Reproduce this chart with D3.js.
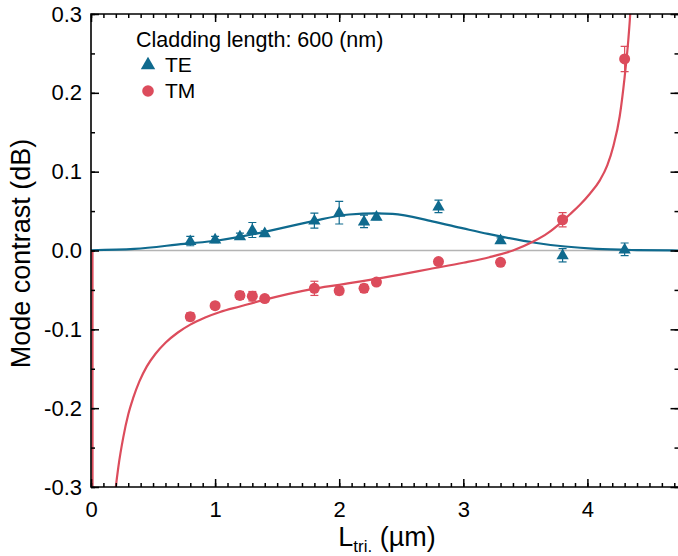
<!DOCTYPE html>
<html><head><meta charset="utf-8">
<script src="https://cdn.jsdelivr.net/npm/d3@7"></script>
<style>
html,body{margin:0;padding:0;background:#fff;}
text{font-family:"Liberation Sans",Arial,sans-serif;}
</style></head>
<body>
<svg id="chart" width="678" height="556"></svg>
<script>
// ---- data ----
const xVals = [0.8, 1.0, 1.2, 1.3, 1.4, 1.8, 2.0, 2.2, 2.3, 2.8, 3.3, 3.8, 4.3];
const teVals = [0.012, 0.014, 0.018, 0.026, 0.022, 0.038, 0.048, 0.037, 0.043, 0.056, 0.013, -0.006, 0.0015];
const teErr  = [0.006, 0.004, 0.004, 0.0095, 0.003, 0.0095, 0.0144, 0.008, 0.004, 0.008, 0.003, 0.0085, 0.008];
const tmVals = [-0.084, -0.070, -0.057, -0.058, -0.061, -0.048, -0.051, -0.048, -0.040, -0.014, -0.015, 0.039, 0.243];
const tmErr  = [0.005, 0.004, 0.005, 0.006, 0.004, 0.009, 0.005, 0.005, 0.004, 0.003, 0.003, 0.009, 0.016];
// fitted curves
const teFitX = [0, 0.35, 0.75, 1.02, 1.38, 1.78, 2.08, 2.3, 2.43, 2.75, 3.0, 3.2, 3.59, 4.07, 4.4, 4.75];
const teFitY = [0.0003, 0.002, 0.0085, 0.0127, 0.023, 0.037, 0.0457, 0.047, 0.0465, 0.037, 0.028, 0.021, 0.0095, 0.002, 0.0005, 0.0];
const tmFitX = [0.012, 0.013, 0.1, 0.15, 0.2, 0.22, 0.26, 0.3, 0.34, 0.39, 0.45, 0.52, 0.6, 0.7, 0.8, 0.92, 1.04, 1.2, 1.386, 1.78, 2.0, 2.2, 2.48, 2.73, 3.0, 3.21, 3.40, 3.56, 3.68, 3.78, 3.86, 3.94, 4.02, 4.1, 4.16, 4.21, 4.26, 4.30, 4.33, 4.345, 4.37, 4.40];
const tmFitY = [0.0, -0.6, -0.575, -0.392, -0.300, -0.275, -0.237, -0.208, -0.187, -0.166, -0.147, -0.131, -0.117, -0.104, -0.094, -0.085, -0.078, -0.071, -0.063, -0.049, -0.0435, -0.0385, -0.031, -0.0235, -0.0155, -0.0085, 0.0, 0.011, 0.022, 0.0345, 0.046, 0.058, 0.072, 0.089, 0.108, 0.133, 0.170, 0.220, 0.268, 0.30, 0.38, 0.53];
const xTicks = [0, 1, 2, 3, 4];
const yTicks = [-0.3, -0.2, -0.1, 0.0, 0.1, 0.2, 0.3];
const yTickLabels = ["-0.3", "-0.2", "-0.1", "0.0", "0.1", "0.2", "0.3"];
const legendTitle = "Cladding length: 600 (nm)";
const seriesNames = ["TE", "TM"];

// ---- layout ----
const colTE = "#0f6a8e", colTM = "#dc4c5c";
const L = 91, R = 678.5, T = 14, B = 487;
const x = d3.scaleLinear().domain([0, 4.734]).range([L, R]);
const y = d3.scaleLinear().domain([-0.3, 0.3]).range([B, T]);
const svg = d3.select("#chart");

svg.append("defs").append("clipPath").attr("id", "clip")
  .append("rect").attr("x", L).attr("y", T).attr("width", R - L).attr("height", B - T);

// zero line
svg.append("line").attr("x1", L).attr("x2", R).attr("y1", y(0)).attr("y2", y(0))
  .attr("stroke", "#b4b4b4").attr("stroke-width", 1.6);

const plot = svg.append("g").attr("clip-path", "url(#clip)");
const line = d3.line().x(d => x(d[0])).y(d => y(d[1])).curve(d3.curveMonotoneX);
plot.append("path").datum(teFitX.map((v, i) => [v, teFitY[i]]))
  .attr("d", line).attr("fill", "none").attr("stroke", colTE).attr("stroke-width", 2.2);
plot.append("path").datum(tmFitX.map((v, i) => [v, tmFitY[i]]))
  .attr("d", line).attr("fill", "none").attr("stroke", colTM).attr("stroke-width", 2.2);

function errbars(vals, errs, col) {
  const g = plot.append("g").attr("stroke", col).attr("stroke-width", 1.2);
  xVals.forEach((xv, i) => {
    const cx = x(xv), y1 = y(vals[i] + errs[i]), y2 = y(vals[i] - errs[i]);
    g.append("line").attr("x1", cx).attr("x2", cx).attr("y1", y1).attr("y2", y2);
    g.append("line").attr("x1", cx - 4).attr("x2", cx + 4).attr("y1", y1).attr("y2", y1);
    g.append("line").attr("x1", cx - 4).attr("x2", cx + 4).attr("y1", y2).attr("y2", y2);
  });
}
errbars(teVals, teErr, colTE);
errbars(tmVals, tmErr, colTM);

const tri = d3.symbol().type(d3.symbolTriangle).size(66);
plot.append("g").selectAll("path").data(xVals).join("path")
  .attr("d", tri).attr("fill", colTE)
  .attr("transform", (d, i) => `translate(${x(d)},${y(teVals[i]) + 0.5})`);
plot.append("g").selectAll("circle").data(xVals).join("circle")
  .attr("cx", d => x(d)).attr("cy", (d, i) => y(tmVals[i])).attr("r", 5.5).attr("fill", colTM);

// axes
const minorX = d3.range(0, 4.75, 0.1);
const minorY = d3.range(-0.3, 0.3001, 0.05);
function styleAxis(g) {
  g.select(".domain").remove();
  g.selectAll("line").attr("stroke", "#000").attr("stroke-width", 1.5);
  g.selectAll("text").attr("fill", "#000").style("font-family", '"Liberation Sans",Arial,sans-serif');
}
// bottom
svg.append("g").attr("transform", `translate(0,${B})`)
  .call(d3.axisBottom(x).tickValues(minorX).tickSize(-4).tickFormat("")).call(styleAxis);
svg.append("g").attr("transform", `translate(0,${B})`)
  .call(d3.axisBottom(x).tickValues(xTicks).tickSize(-8).tickPadding(14).tickFormat(d3.format("d")))
  .call(styleAxis).selectAll("text").attr("font-size", 22);
// top
svg.append("g").attr("transform", `translate(0,${T})`)
  .call(d3.axisTop(x).tickValues(minorX).tickSize(-4).tickFormat("")).call(styleAxis);
svg.append("g").attr("transform", `translate(0,${T})`)
  .call(d3.axisTop(x).tickValues(xTicks).tickSize(-8).tickFormat("")).call(styleAxis);
// left
svg.append("g").attr("transform", `translate(${L},0)`)
  .call(d3.axisLeft(y).tickValues(minorY).tickSize(-4).tickFormat("")).call(styleAxis);
svg.append("g").attr("transform", `translate(${L},0)`)
  .call(d3.axisLeft(y).tickValues(yTicks).tickSize(-8).tickPadding(9)
    .tickFormat((d, i) => yTickLabels[i]))
  .call(styleAxis).selectAll("text").attr("font-size", 22);
// right
svg.append("g").attr("transform", `translate(${R},0)`)
  .call(d3.axisRight(y).tickValues(minorY).tickSize(-4).tickFormat("")).call(styleAxis);
svg.append("g").attr("transform", `translate(${R},0)`)
  .call(d3.axisRight(y).tickValues(yTicks).tickSize(-8).tickFormat("")).call(styleAxis);

// frame
svg.append("path").attr("d", `M${R},${T}H${L}V${B}H${R}`)
  .attr("fill", "none").attr("stroke", "#000").attr("stroke-width", 1.6);

// axis titles
svg.append("text").attr("transform", `translate(30,${(T + B) / 2 + 3}) rotate(-90)`)
  .attr("text-anchor", "middle").attr("font-size", 27).text("Mode contrast (dB)");
const xt = svg.append("text").attr("x", 387).attr("y", 546).attr("text-anchor", "middle").attr("font-size", 27);
xt.append("tspan").text("L");
xt.append("tspan").attr("font-size", 17).attr("dy", 6).text("tri.");
xt.append("tspan").attr("dy", -6).text(" (\u00b5m)");

// legend
svg.append("text").attr("x", 136).attr("y", 47).attr("font-size", 21.5).text(legendTitle);
svg.append("path").attr("d", d3.symbol().type(d3.symbolTriangle).size(90))
  .attr("fill", colTE).attr("transform", "translate(148,65)");
svg.append("text").attr("x", 165).attr("y", 72).attr("font-size", 21).text(seriesNames[0]);
svg.append("circle").attr("cx", 148).attr("cy", 91).attr("r", 5.8).attr("fill", colTM);
svg.append("text").attr("x", 165).attr("y", 98).attr("font-size", 21).text(seriesNames[1]);
</script>
</body></html>
